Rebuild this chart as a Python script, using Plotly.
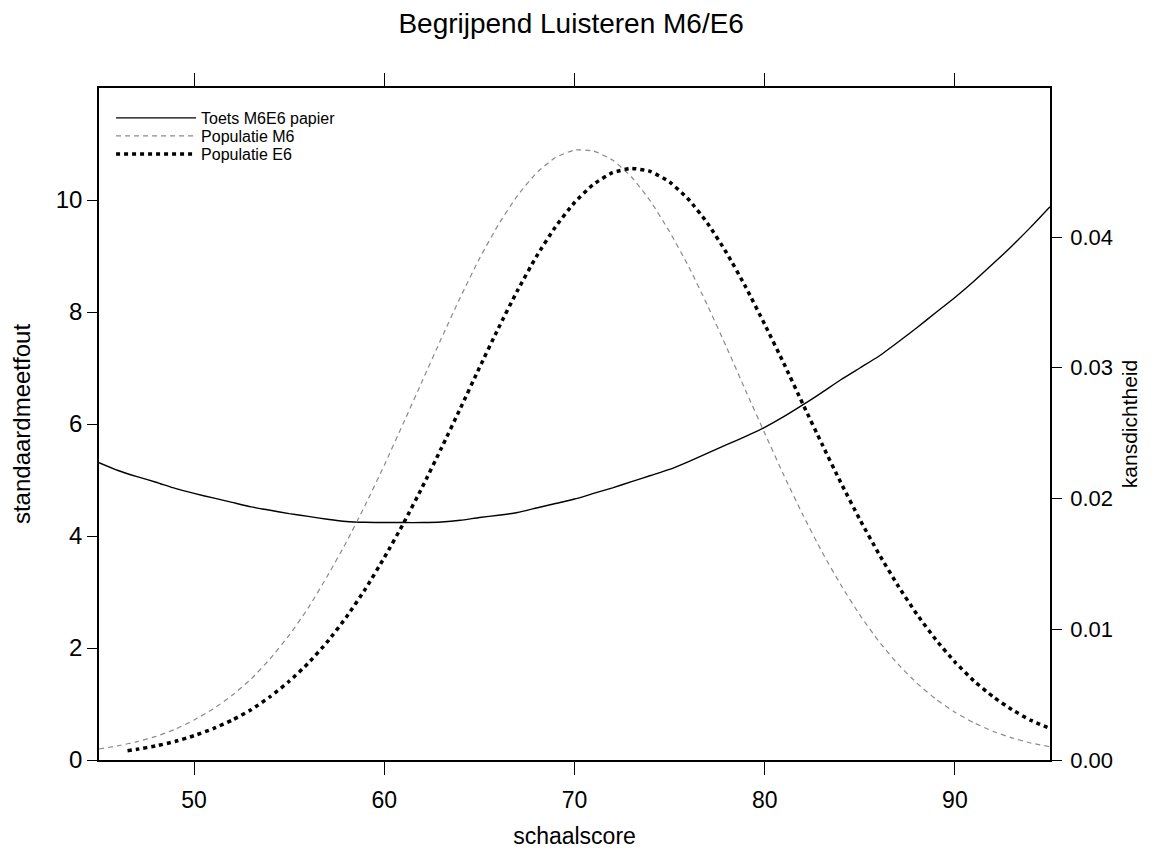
import plotly.graph_objects as go

# ---------------- data ----------------
score = list(range(45, 96))

sem_toets = [5.31, 5.17, 5.06, 4.96, 4.85, 4.76, 4.68, 4.60, 4.52, 4.46,
             4.40, 4.35, 4.30, 4.26, 4.245, 4.24, 4.24, 4.24, 4.25, 4.28,
             4.33, 4.37, 4.42, 4.50, 4.58, 4.66, 4.76, 4.86, 4.97, 5.08,
             5.19, 5.33, 5.48, 5.63, 5.78, 5.94, 6.13, 6.34, 6.56, 6.79,
             7.00, 7.21, 7.46, 7.72, 7.99, 8.26, 8.55, 8.86, 9.18, 9.52,
             9.88]

dens_m6 = [0.00084, 0.00109, 0.00140, 0.00181, 0.00235, 0.00306, 0.00390, 0.00495, 0.00620, 0.00775,
           0.00955, 0.01163, 0.01405, 0.01665, 0.01950, 0.02255, 0.02575, 0.02900, 0.03225, 0.03540,
           0.03835, 0.04095, 0.04317, 0.04490, 0.04608, 0.04665, 0.04658, 0.04589, 0.04459, 0.04273,
           0.04040, 0.03775, 0.03475, 0.03155, 0.02825, 0.02500, 0.02180, 0.01877, 0.01595, 0.01340,
           0.01110, 0.00908, 0.00735, 0.00588, 0.00466, 0.00366, 0.00285, 0.00220, 0.00169, 0.00130,
           0.00102]

score_e6 = [46.5] + list(range(47, 96))
dens_e6 = [0.00071, 0.00082, 0.00108, 0.00142, 0.00186, 0.00240, 0.00305, 0.00385, 0.00485, 0.00602,
           0.00740, 0.00903, 0.01092, 0.01307, 0.01548, 0.01808, 0.02088, 0.02385, 0.02690, 0.03000,
           0.03303, 0.03590, 0.03852, 0.04078, 0.04264, 0.04404, 0.04492, 0.04525, 0.04501, 0.04421,
           0.04287, 0.04104, 0.03878, 0.03618, 0.03332, 0.03035, 0.02725, 0.02420, 0.02122, 0.01840,
           0.01578, 0.01335, 0.01115, 0.00920, 0.00750, 0.00605, 0.00485, 0.00385, 0.00303, 0.00242]

x_ticks = [50, 60, 70, 80, 90]
y_ticks = [0, 2, 4, 6, 8, 10]
y2_ticks = [0.00, 0.01, 0.02, 0.03, 0.04]

FONT = "Liberation Sans, Arial, sans-serif"

fig = go.Figure()
fig.add_trace(go.Scatter(x=score, y=sem_toets, mode="lines", name="Toets M6E6 papier",
                         line=dict(color="black", width=1.4, shape="spline", smoothing=0.5),
                         yaxis="y", legend="legend"))
fig.add_trace(go.Scatter(x=score, y=dens_m6, mode="lines", name="Populatie M6",
                         line=dict(color="#8a8a8a", width=1.2, dash="5px,4px", shape="spline", smoothing=0.5),
                         yaxis="y2", legend="legend2"))
fig.add_trace(go.Scatter(x=score_e6, y=dens_e6, mode="lines", name="Populatie E6",
                         line=dict(color="black", width=3.5, dash="4px,4px", shape="spline", smoothing=0.5),
                         yaxis="y2", legend="legend3"))

leg_common = dict(x=0.0127, xanchor="left", yanchor="top",
                  bgcolor="rgba(0,0,0,0)", borderwidth=0,
                  font=dict(size=16, family=FONT), itemwidth=80)

fig.update_layout(
    width=1157, height=853,
    margin=dict(l=99, r=107, t=88, b=93),
    paper_bgcolor="white", plot_bgcolor="white",
    font=dict(family=FONT, color="black", size=20),
    title=dict(text="Begrijpend Luisteren M6/E6", x=0.4965, xref="paper",
               y=1 - 23 / 853, yref="container", yanchor="middle", xanchor="center",
               font=dict(size=28, family=FONT, color="black")),
    showlegend=True,
    legend=dict(y=0.9807, **leg_common),
    legend2=dict(y=0.9539, **leg_common),
    legend3=dict(y=0.9271, **leg_common),
    xaxis=dict(range=[45, 95], tickvals=x_ticks, ticks="outside", ticklen=13, tickwidth=1,
               tickcolor="black", showline=True, linecolor="black", linewidth=1.5,
               mirror="ticks", showgrid=False, zeroline=False, automargin=False,
               ticklabelstandoff=6,
               tickfont=dict(size=23),
               title=dict(text="schaalscore", font=dict(size=23), standoff=16)),
    yaxis=dict(range=[0, 12], tickvals=y_ticks, ticks="outside", ticklen=10, tickwidth=1,
               tickcolor="black", showline=True, linecolor="black", linewidth=1.5,
               mirror=True, showgrid=False, zeroline=False, automargin=False,
               tickfont=dict(size=24),
               title=dict(text="standaardmeetfout", font=dict(size=24), standoff=18)),
    yaxis2=dict(range=[0, 0.0514], tickvals=y2_ticks, tickformat=".2f", overlaying="y",
                side="right", ticks="outside", ticklen=10, tickwidth=1, tickcolor="black",
                showline=True, linecolor="black", linewidth=1.5, showgrid=False, zeroline=False,
                automargin=False, ticklabelstandoff=4,
                tickfont=dict(size=22),
                title=dict(text="kansdichtheid", font=dict(size=21), standoff=10)),
)

fig.write_html("out.html")
